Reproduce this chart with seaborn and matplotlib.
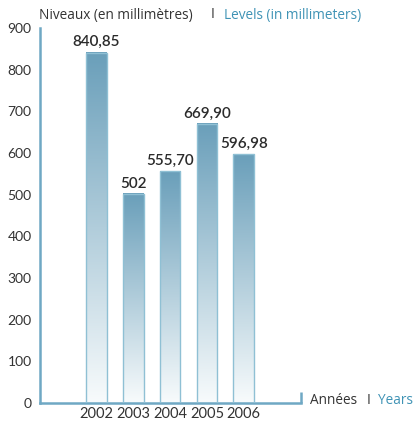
import numpy as np
import pandas as pd
import seaborn as sns
import matplotlib.pyplot as plt
from matplotlib.colors import LinearSegmentedColormap

years = ['2002', '2003', '2004', '2005', '2006']
levels = [840.85, 502, 555.70, 669.90, 596.98]
value_labels = ['840,85', '502', '555,70', '669,90', '596,98']
y_ticks = [0, 100, 200, 300, 400, 500, 600, 700, 800, 900]

axis_col = '#6fa8c4'
text_col = '#333333'
blue_text = '#3f93b5'

sns.set_style('white')
plt.rcParams['font.family'] = ['Lato', 'DejaVu Sans']

W, H = 416, 425
fig = plt.figure(figsize=(W / 100, H / 100), dpi=100)
ax = fig.add_axes([40 / W, 22 / H, 261 / W, 375 / H])

df = pd.DataFrame({'year': years, 'level': levels})
sns.barplot(data=df, x='year', y='level', ax=ax, width=0.56,
            color='white', edgecolor='#8fc0d4', linewidth=1.0)

cmap = LinearSegmentedColormap.from_list('bar', ['#f8fbfc', '#6a9fba'])
grad = np.linspace(1, 0, 256).reshape(-1, 1)
for p, lab in zip(ax.patches, value_labels):
    x0, w, h = p.get_x(), p.get_width(), p.get_height()
    p.set_facecolor('none')
    p.set_zorder(3)
    ax.imshow(grad, extent=[x0, x0 + w, 0, h], aspect='auto', cmap=cmap,
              zorder=2, interpolation='bilinear')
    ax.text(x0 + w / 2, h + 8, lab, ha='center', va='bottom',
            fontsize=11, fontweight='semibold', color='#2b2b2b')

ax.set_xlim(-1.54, 5.56)
ax.set_ylim(0, 900)
ax.set_yticks(y_ticks)
ax.set_xlabel('')
ax.set_ylabel('')

sns.despine(ax=ax)
for s in ['left', 'bottom']:
    ax.spines[s].set_color(axis_col)
    ax.spines[s].set_linewidth(1.8)
ax.tick_params(axis='y', direction='in', length=5, width=1.8, color=axis_col,
               labelsize=10, labelcolor=text_col, pad=6)
ax.tick_params(axis='x', length=0, labelsize=10.5, labelcolor=text_col, pad=3)
ax.plot([1, 1], [0, 0.03], transform=ax.transAxes, color=axis_col,
        lw=1.8, clip_on=False, solid_capstyle='butt')

def ftext(xp, yp, s, c):
    fig.text(xp / W, 1 - yp / H, s, color=c, fontsize=9.8, va='center',
             ha='left', family=['Open Sans', 'DejaVu Sans'])

ftext(39, 15, 'Niveaux (en millimètres)', text_col)
ftext(211, 15, 'I', text_col)
ftext(224, 15, 'Levels (in millimeters)', blue_text)
ftext(310, 400, 'Années', text_col)
ftext(367, 400, 'I', text_col)
ftext(378, 400, 'Years', blue_text)

fig.savefig('out.png', dpi=100)
